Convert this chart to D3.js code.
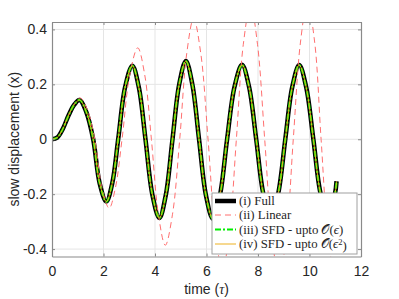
<!doctype html>
<html>
<head>
<meta charset="utf-8">
<script src="https://cdnjs.cloudflare.com/ajax/libs/d3/7.8.5/d3.min.js"></script>
<style>
  body { margin: 0; background: white; }
  svg { background: white; display: block; }
  .tick text { font-family: "Liberation Sans", Arial, sans-serif; font-size: 14px; fill: #262626; }
</style>
</head>
<body>
<svg id="chart" width="399" height="299"></svg>
<script>
// time (tau) vs slow displacement (x)
const fullData = [
  [0,0],[0.2,0.006],[0.4,0.034],[0.65,0.088],[0.85,0.124],[1.07,0.143],
  [1.33,0.1],[1.6,0],[1.85,-0.16],[2.11,-0.227],
  [2.34,-0.16],[2.57,0],[2.84,0.19],[3.12,0.268],
  [3.37,0.19],[3.63,0],[3.9,-0.203],[4.17,-0.287],
  [4.42,-0.203],[4.68,0],[4.94,0.2],[5.2,0.285],
  [5.45,0.2],[5.71,0],[5.98,-0.205],[6.25,-0.29],
  [6.52,-0.205],[6.8,0],[7.09,0.192],[7.38,0.271],
  [7.65,0.192],[7.93,0],[8.21,-0.2],[8.5,-0.285],
  [8.78,-0.2],[9.06,0],[9.33,0.19],[9.6,0.27],
  [9.87,0.19],[10.15,0],[10.43,-0.198],[10.72,-0.28],
  [10.99,-0.198],[11.05,-0.153]
];
const linearData = [
  [0,0],[0.2,0.006],[0.4,0.034],[0.65,0.09],[0.87,0.13],[1.1,0.15],
  [1.38,0.106],[1.66,0],[1.94,-0.178],[2.22,-0.251],
  [2.46,-0.178],[2.72,0],[3.02,0.235],[3.33,0.333],
  [3.6,0.235],[3.86,0],[4.13,-0.273],[4.4,-0.386],
  [4.68,-0.273],[4.96,0],[5.23,0.311],[5.5,0.44],
  [5.78,0.311],[6.06,0],[6.34,-0.337],[6.62,-0.476],
  [6.89,-0.337],[7.16,0],[7.43,0.346],[7.71,0.49],
  [7.98,0.346],[8.26,0],[8.54,-0.354],[8.82,-0.5],
  [9.1,-0.354],[9.37,0],[9.65,0.354],[9.92,0.5],
  [10.2,0.354],[10.45,0],[10.72,-0.354],[11.0,-0.5],[11.05,-0.497]
];
// the two SFD approximations lie on top of the full solution
const sfd1Data = fullData;
const sfd2Data = fullData;

const xTicks = [0,2,4,6,8,10,12];
const yTicks = [-0.4,-0.2,0,0.2,0.4];
const legendLabels = ["(i) Full","(ii) Linear","(iii) SFD - upto ","(iv) SFD - upto "];

const L = 52, R = 361, T = 22, B = 256.5;
const svg = d3.select("#chart");

const x = d3.scaleLinear().domain([0,12]).range([L,R]);
const y = d3.scaleLinear().domain([-0.427,0.427]).range([B,T]);

// grid
svg.append("g").selectAll("line").data(xTicks.slice(1,-1)).enter().append("line")
  .attr("x1", d => x(d)).attr("x2", d => x(d)).attr("y1", T).attr("y2", B)
  .attr("stroke", "#e5e5e5").attr("stroke-width", 1);
svg.append("g").selectAll("line").data(yTicks).enter().append("line")
  .attr("x1", L).attr("x2", R).attr("y1", d => y(d)).attr("y2", d => y(d))
  .attr("stroke", "#e5e5e5").attr("stroke-width", 1);

// curves
svg.append("clipPath").attr("id","clip").append("rect")
  .attr("x", L).attr("y", T).attr("width", R-L).attr("height", B-T);

const line = d3.line().x(d => x(d[0])).y(d => y(d[1])).curve(d3.curveCatmullRom.alpha(0.5));
const plot = svg.append("g").attr("clip-path","url(#clip)");

plot.append("path").attr("d", line(fullData))
  .attr("fill","none").attr("stroke","#000").attr("stroke-width",4.5).attr("stroke-linejoin","round");
plot.append("path").attr("d", line(linearData))
  .attr("fill","none").attr("stroke","#ff6f6f").attr("stroke-width",1).attr("stroke-dasharray","6,4");
plot.append("path").attr("d", line(sfd1Data))
  .attr("fill","none").attr("stroke","#00ee00").attr("stroke-width",2.2).attr("stroke-dasharray","6,2,2,2");
plot.append("path").attr("d", line(sfd2Data))
  .attr("fill","none").attr("stroke","#edb120").attr("stroke-width",1);

// axes (box with inward ticks)
const ax = svg.append("g").attr("class","axes");
ax.append("g").attr("transform",`translate(0,${B})`)
  .call(d3.axisBottom(x).tickValues(xTicks).tickSize(-3).tickPadding(9.5).tickSizeOuter(0));
ax.append("g").attr("transform",`translate(0,${T})`)
  .call(d3.axisTop(x).tickValues(xTicks).tickSize(-3).tickFormat("").tickSizeOuter(0));
ax.append("g").attr("transform",`translate(${L},0)`)
  .call(d3.axisLeft(y).tickValues(yTicks).tickSize(-3).tickPadding(5).tickSizeOuter(0)
    .tickFormat(d => d === 0 ? "0" : d3.format(".1f")(d).replace("−","-")));
ax.append("g").attr("transform",`translate(${R},0)`)
  .call(d3.axisRight(y).tickValues(yTicks).tickSize(-3).tickFormat("").tickSizeOuter(0));
ax.selectAll(".domain").attr("stroke","#8a8a8a").attr("stroke-width",1.2);
ax.selectAll(".tick line").attr("stroke","#8a8a8a");

// axis titles
const xt = svg.append("text").attr("x",(L+R)/2).attr("y",294).attr("text-anchor","middle")
  .style("font-family","'Liberation Sans', Arial, sans-serif").style("font-size","14px").attr("fill","#262626");
xt.append("tspan").text("time (");
xt.append("tspan").style("font-family","'Liberation Serif', serif").style("font-style","italic").text("τ");
xt.append("tspan").text(")");

svg.append("text").attr("transform",`translate(19,${(T+B)/2}) rotate(-90)`).attr("text-anchor","middle")
  .style("font-family","'Liberation Sans', Arial, sans-serif").style("font-size","14px").attr("fill","#262626")
  .text("slow displacement (x)");

// legend
const lg = svg.append("g");
lg.append("rect").attr("x",212).attr("y",193).attr("width",145).attr("height",61)
  .attr("fill","white").attr("stroke","#a0a0a0").attr("stroke-width",1);
const rowY = [201, 215, 229.5, 244];
const styles = [
  {c:"#000", w:4.5, d:null},
  {c:"#ff6f6f", w:1, d:"6,4"},
  {c:"#00ee00", w:2.2, d:"6,2,2,2"},
  {c:"#edb120", w:1, d:null}
];
styles.forEach((s,i) => {
  lg.append("line").attr("x1",215).attr("x2",236).attr("y1",rowY[i]).attr("y2",rowY[i])
    .attr("stroke",s.c).attr("stroke-width",s.w).attr("stroke-dasharray",s.d);
  const t = lg.append("text").attr("x",239).attr("y",rowY[i]).attr("dy","0.35em")
    .style("font-family","'Liberation Serif', 'DejaVu Serif', serif").style("font-size","12.8px").attr("fill","#262626")
    .text(legendLabels[i]);
  if (i === 2) {
    t.append("tspan").text("𝒪(");
    t.append("tspan").style("font-style","italic").text("ϵ");
    t.append("tspan").text(")");
  }
  if (i === 3) {
    t.append("tspan").text("𝒪(");
    t.append("tspan").style("font-style","italic").text("ϵ");
    t.append("tspan").attr("dy","-0.4em").style("font-size","8.5px").text("2");
    t.append("tspan").attr("dy","0.4em").text(")");
  }
});
</script>
</body>
</html>
